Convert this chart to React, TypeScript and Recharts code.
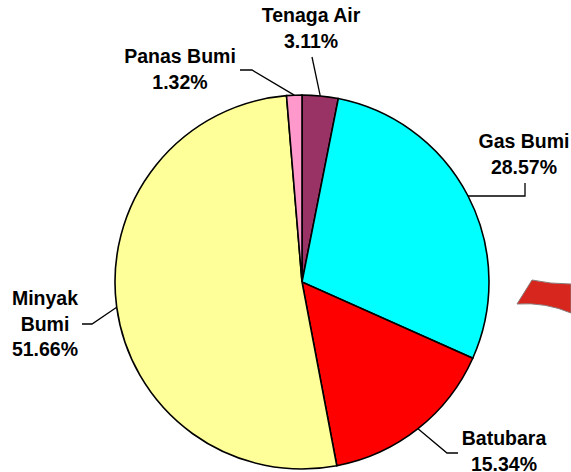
import React from "react";
import { PieChart, Pie, Cell } from "recharts";

const NAMES = ["Tenaga Air", "Gas Bumi", "Batubara", "Minyak Bumi", "Panas Bumi"];
const VALUES = [3.11, 28.57, 15.34, 51.66, 1.32];
const COLORS = ["#993366", "#00FFFF", "#FF0000", "#FFFF99", "#FF99CC"];

const data = NAMES.map((name, i) => ({ name, value: VALUES[i] }));

type Layout = { lines: string[]; x: number; y: number; path: number[][] };
const LABEL_LAYOUT: Record<string, Layout> = {
  "Tenaga Air": { lines: ["Tenaga Air"], x: 311, y: 22, path: [[312, 57]] },
  "Gas Bumi": { lines: ["Gas Bumi"], x: 524, y: 148, path: [[525, 183], [525, 196]] },
  Batubara: { lines: ["Batubara"], x: 504, y: 445, path: [[458, 453], [447, 453]] },
  "Minyak Bumi": { lines: ["Minyak", "Bumi"], x: 45, y: 305, path: [[82, 324], [92, 324]] },
  "Panas Bumi": { lines: ["Panas Bumi"], x: 180, y: 63, path: [[240, 70], [252, 70]] },
};

const RAD = Math.PI / 180;
const LINE_H = 25.5;

const renderLabel = (props: any) => {
  const { cx, cy, midAngle, outerRadius, name, value } = props;
  const lay = LABEL_LAYOUT[name];
  if (!lay) return null;
  const ex = cx + outerRadius * Math.cos(-midAngle * RAD);
  const ey = cy + outerRadius * Math.sin(-midAngle * RAD);
  const pts = [...lay.path, [ex, ey]].map((p) => p.join(",")).join(" ");
  const all = [...lay.lines, `${Number(value).toFixed(2)}%`];
  return (
    <g>
      <polyline points={pts} fill="none" stroke="#000" strokeWidth={1.3} />
      {all.map((t, i) => (
        <text
          key={i}
          x={lay.x}
          y={lay.y + i * LINE_H}
          textAnchor="middle"
          fontFamily="'Liberation Sans', Arial, sans-serif"
          fontWeight="bold"
          fontSize={19.5}
          fill="#000"
        >
          {t}
        </text>
      ))}
    </g>
  );
};

export default function App() {
  return (
    <div style={{ position: "absolute", left: 0, top: 0, width: 571, height: 472, background: "#fff" }}>
      <PieChart width={571} height={472} margin={{ top: 0, right: 0, bottom: 0, left: 0 }}>
        <Pie
          data={data}
          dataKey="value"
          nameKey="name"
          cx={302}
          cy={282}
          outerRadius={187}
          startAngle={90}
          endAngle={-270}
          stroke="#000"
          strokeWidth={1.6}
          label={renderLabel}
          labelLine={false}
          isAnimationActive={false}
        >
          {data.map((d, i) => (
            <Cell key={d.name} fill={COLORS[i]} />
          ))}
        </Pie>
      </PieChart>
      <svg
        width={571}
        height={472}
        style={{ position: "absolute", left: 0, top: 0, pointerEvents: "none" }}
      >
        <path
          d="M517,304 L532,280 Q550,284 571,284 L571,313 Q545,302 517,304 Z"
          fill="#D7261E"
          stroke="#8a7a78"
          strokeWidth={1}
        />
      </svg>
    </div>
  );
}
